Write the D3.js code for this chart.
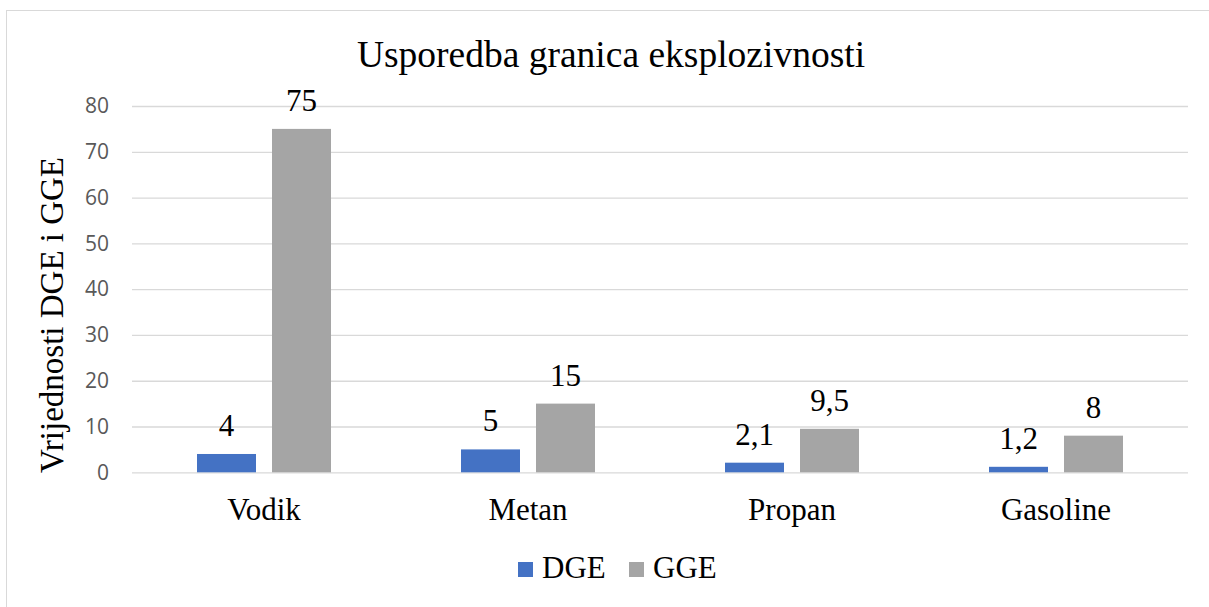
<!DOCTYPE html>
<html>
<head>
<meta charset="utf-8">
<script src="https://cdn.jsdelivr.net/npm/d3@7"></script>
<style>
  html, body { margin: 0; padding: 0; background: #fff; }
  svg { display: block; }
</style>
</head>
<body>
<svg id="chart" width="1209" height="607"></svg>
<script>
const categories = ["Vodik", "Metan", "Propan", "Gasoline"];
const seriesNames = ["DGE", "GGE"];
const dgeValues = [4, 5, 2.1, 1.2];
const ggeValues = [75, 15, 9.5, 8];
const yTicks = [0, 10, 20, 30, 40, 50, 60, 70, 80];
const colors = ["#4472C4", "#A5A5A5"];
const titleText = "Usporedba granica eksplozivnosti";
const yTitleText = "Vrijednosti DGE i GGE";

(function () {
const svg = d3.select("#chart");
const serif = "'Liberation Serif', 'Times New Roman', serif";

const rows = categories.map((c, i) => ({ cat: c, values: [dgeValues[i], ggeValues[i]] }));

// frame
svg.append("rect")
  .attr("x", 6.5).attr("y", 10.5)
  .attr("width", 1220).attr("height", 620)
  .attr("fill", "#fff").attr("stroke", "#D9D9D9").attr("stroke-width", 1);

const pLeft = 132, pRight = 1188, pTop = 106, pBottom = 472.3;

const x0 = d3.scaleBand().domain(categories).range([pLeft, pRight])
  .paddingInner(130 / 264).paddingOuter(65 / 264);
const x1 = d3.scaleBand().domain(seriesNames).range([0, x0.bandwidth()])
  .paddingInner(16 / 75).paddingOuter(0);
const y = d3.scaleLinear().domain([0, 80]).range([pBottom, pTop]);

// gridlines
const yAxis = d3.axisLeft(y).tickValues(yTicks).tickSize(-(pRight - pLeft)).tickPadding(23);
const gAxis = svg.append("g").attr("transform", `translate(${pLeft},0)`).call(yAxis)
  .attr("font-family", "'Open Sans', 'Liberation Sans', sans-serif")
  .attr("font-size", 21);
gAxis.select(".domain").remove();
gAxis.selectAll(".tick line").attr("stroke", "#D9D9D9").attr("stroke-width", 1.3);
gAxis.selectAll(".tick text")
  .attr("fill", "#595959")
  .style("font-family", "'Open Sans', 'Liberation Sans', sans-serif")
  .style("font-size", "21px");

// bars
const groups = svg.append("g").selectAll("g").data(rows).join("g")
  .attr("transform", d => `translate(${x0(d.cat)},0)`);

groups.selectAll("rect")
  .data(d => d.values.map((v, i) => ({ key: seriesNames[i], v, i })))
  .join("rect")
  .attr("x", d => x1(d.key))
  .attr("y", d => y(d.v))
  .attr("width", x1.bandwidth())
  .attr("height", d => y(0) - y(d.v))
  .attr("fill", d => colors[d.i]);

// data labels
groups.selectAll("text.lbl")
  .data(d => d.values.map((v, i) => ({ key: seriesNames[i], v, i })))
  .join("text")
  .attr("class", "lbl")
  .attr("x", d => x1(d.key) + x1.bandwidth() / 2)
  .attr("y", d => y(d.v) - 18)
  .attr("text-anchor", "middle")
  .style("font-family", serif)
  .style("font-size", "31px")
  .attr("fill", "#000")
  .text(d => String(d.v).replace(".", ","));

// x axis labels
svg.append("g").selectAll("text").data(categories).join("text")
  .attr("x", d => x0(d) + x0.bandwidth() / 2)
  .attr("y", 520)
  .attr("text-anchor", "middle")
  .style("font-family", serif)
  .style("font-size", "31px")
  .attr("fill", "#000")
  .text(d => d);

// title
svg.append("text")
  .attr("x", 611).attr("y", 67)
  .attr("text-anchor", "middle")
  .style("font-family", serif)
  .style("font-size", "37.5px")
  .attr("fill", "#000")
  .text(titleText);

// y title
svg.append("text")
  .attr("transform", "translate(63,315) rotate(-90)")
  .attr("text-anchor", "middle")
  .style("font-family", serif)
  .style("font-size", "33px")
  .attr("fill", "#000")
  .text(yTitleText);

// legend
const legendX = [518, 629];
const leg = svg.append("g").selectAll("g").data(seriesNames).join("g")
  .attr("transform", (d, i) => `translate(${legendX[i]},0)`);
leg.append("rect").attr("x", 0).attr("y", 562).attr("width", 15).attr("height", 15)
  .attr("fill", (d, i) => colors[i]);
leg.append("text").attr("x", 24).attr("y", 578)
  .style("font-family", serif).style("font-size", "31px").attr("fill", "#000")
  .text(d => d);
})();
</script>
</body>
</html>
